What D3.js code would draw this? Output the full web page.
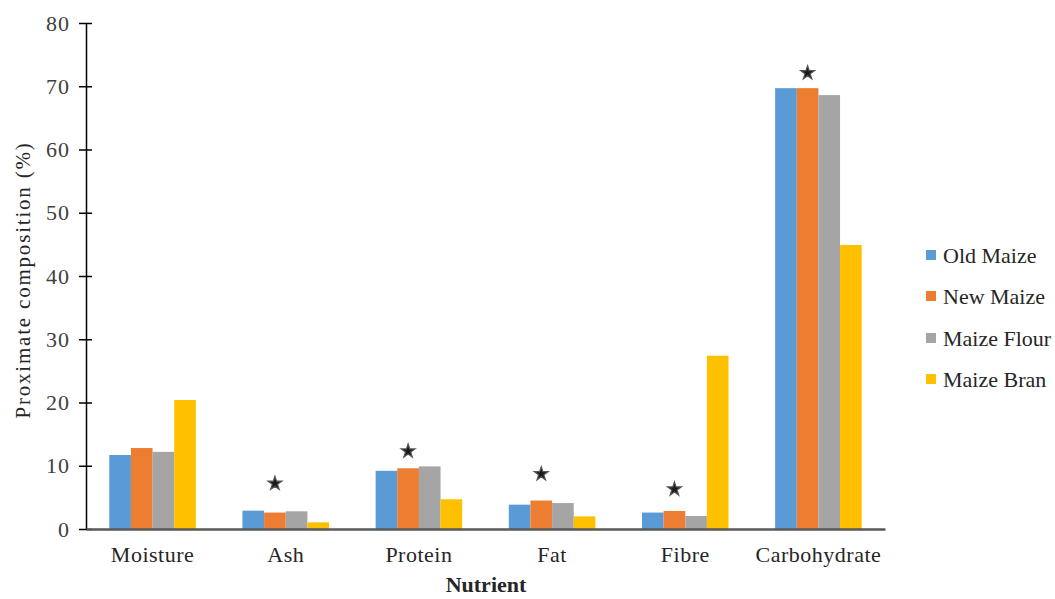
<!DOCTYPE html>
<html><head><meta charset="utf-8">
<script src="https://cdn.jsdelivr.net/npm/d3@7"></script>
<style>body{margin:0;background:#fff;} text{font-family:"Liberation Serif","Times New Roman",serif;}</style>
</head><body>
<svg id="chart" width="1055" height="599"></svg>
<script>
const categories = ["Moisture","Ash","Protein","Fat","Fibre","Carbohydrate"];
const seriesNames = ["Old Maize","New Maize","Maize Flour","Maize Bran"];
const oldMaize   = [11.7, 2.9, 9.2, 3.85, 2.6, 69.7];
const newMaize   = [12.8, 2.6, 9.6, 4.5, 2.85, 69.7];
const maizeFlour = [12.2, 2.8, 9.9, 4.1, 2.05, 68.6];
const maizeBran  = [20.4, 1.05, 4.7, 2.0, 27.4, 44.9];
const asteriskCats = ["Ash","Protein","Fat","Fibre","Carbohydrate"];
const asteriskY    = [7.2, 12.3, 8.7, 6.3, 72.1];
const yTicks = [0,10,20,30,40,50,60,70,80];
const colors = ["#5B9BD5","#ED7D31","#A5A5A5","#FFC000"];

const series = [oldMaize, newMaize, maizeFlour, maizeBran];
const svg = d3.select("#chart");
const x0 = d3.scaleBand().domain(categories).range([86, 885]).paddingInner(0.35).paddingOuter(0.175);
const x1 = d3.scaleBand().domain(seriesNames).range([0, x0.bandwidth()]);
const y = d3.scaleLinear().domain([0, 80]).range([529, 23]);

// bars
categories.forEach((c, ci) => {
  const g = svg.append("g").attr("transform", `translate(${x0(c)},0)`);
  seriesNames.forEach((s, si) => {
    const v = series[si][ci];
    g.append("rect").attr("x", x1(s)).attr("width", x1.bandwidth())
      .attr("y", y(v)).attr("height", y(0) - y(v)).attr("fill", colors[si]);
  });
});

// y axis
const yAxis = d3.axisLeft(y).tickValues(yTicks).tickSize(0).tickPadding(16);
const ya = svg.append("g").attr("transform", "translate(86,0)").call(yAxis);
ya.select(".domain").attr("stroke", "#000").attr("stroke-width", 1.5);
ya.selectAll(".tick text").attr("font-size", 22).attr("fill", "#404040")
  .attr("font-family", "Liberation Serif, serif").attr("letter-spacing", 1);
ya.selectAll(".tick").append("line").attr("x1", -7).attr("x2", 6).attr("stroke", "#000").attr("stroke-width", 1.5);

// x axis baseline
const xAxis = d3.axisBottom(x0).tickSize(0).tickPadding(14);
const xa = svg.append("g").attr("transform", `translate(0,${y(0)})`).call(xAxis);
xa.select(".domain").attr("stroke", "#595959").attr("stroke-width", 2.5);
xa.selectAll(".tick text").attr("font-size", 22).attr("fill", "#262626")
  .attr("font-family", "Liberation Serif, serif").attr("dy", "0.85em").attr("letter-spacing", 0.5);

// asterisks
const star = d3.symbol().type(d3.symbolStar).size(60);
asteriskCats.forEach((c, i) => {
  const cx = x0(c) + x1("New Maize") + x1.bandwidth() / 2;
  svg.append("path").attr("d", star).attr("transform", `translate(${cx},${y(asteriskY[i])})`)
    .attr("fill", "#1a1a1a").attr("stroke", "#555").attr("stroke-width", 1.2);
});

// axis titles
svg.append("text").attr("transform", "translate(30,280) rotate(-90)").attr("text-anchor", "middle")
  .attr("font-size", 21).attr("fill", "#262626").attr("letter-spacing", 1.8)
  .text("Proximate composition (%)");
svg.append("text").attr("x", 486).attr("y", 592).attr("text-anchor", "middle")
  .attr("font-size", 22).attr("font-weight", "bold").attr("fill", "#262626").text("Nutrient");

// legend
const legendY = [255, 296, 338, 379];
seriesNames.forEach((s, i) => {
  svg.append("rect").attr("x", 926).attr("y", legendY[i] - 5).attr("width", 10).attr("height", 10).attr("fill", colors[i]);
  svg.append("text").attr("x", 943).attr("y", legendY[i]).attr("dy", "0.35em")
    .attr("font-size", 22).attr("fill", "#262626").text(s);
});
</script>
</body></html>
